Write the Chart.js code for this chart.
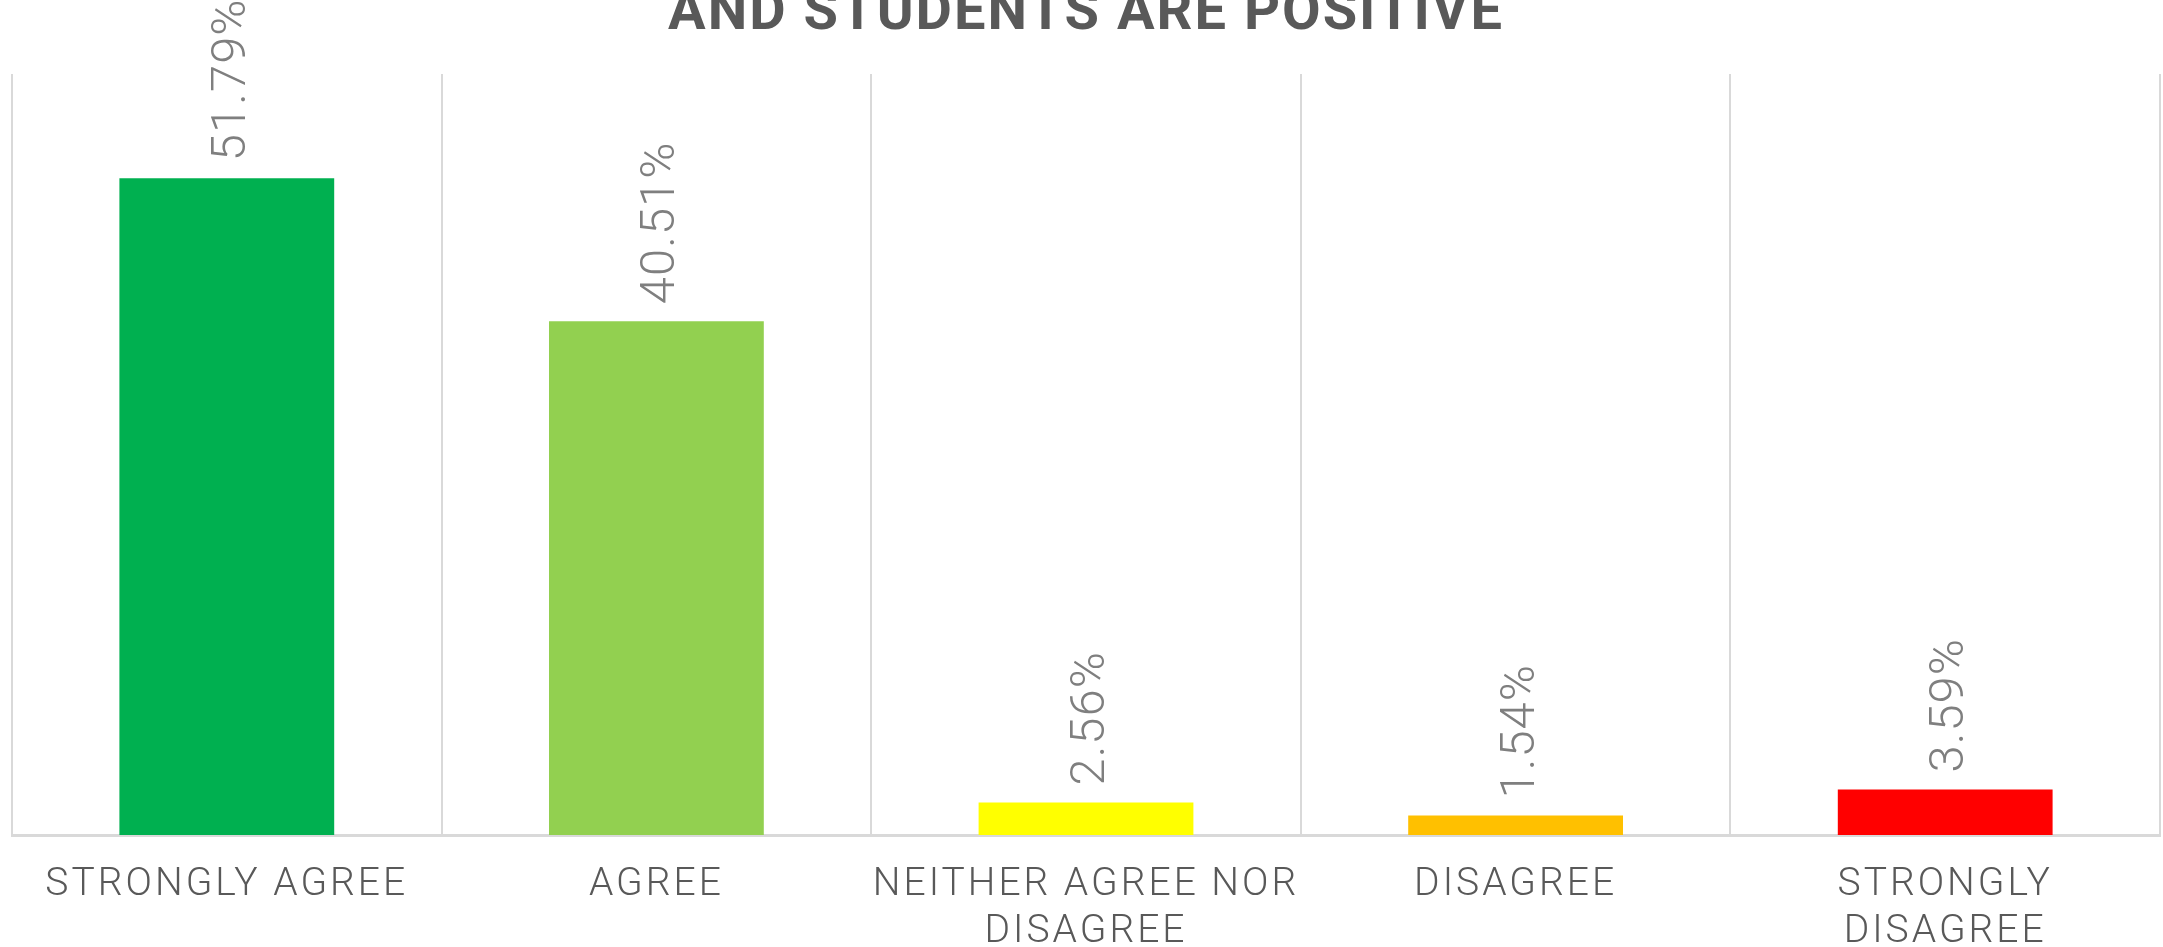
<!DOCTYPE html>
<html>
<head>
<meta charset="utf-8">
<style>
  html, body { margin: 0; padding: 0; background: #ffffff; }
  #wrap { width: 2163px; height: 947px; }
</style>
<script src="https://cdn.jsdelivr.net/npm/chart.js@4/dist/chart.umd.min.js"></script>
</head>
<body>
<div id="wrap"><canvas id="c" width="2163" height="947"></canvas></div>
<script>
const categories = [
  'STRONGLY AGREE',
  'AGREE',
  ['NEITHER AGREE NOR', 'DISAGREE'],
  'DISAGREE',
  ['STRONGLY', 'DISAGREE']
];
const percentages = [51.79, 40.51, 2.56, 1.54, 3.59];
const barColors = ['#00B050', '#92D050', '#FFFF00', '#FFC000', '#FF0000'];
const titleText = 'AND STUDENTS ARE POSITIVE';
const yMin = 0;
const yMax = 60;

const titlePlugin = {
  id: 'clippedTitle',
  beforeDraw(chart) {
    chart.ctx.letterSpacing = '3px';
  },
  afterDraw(chart) {
    const ctx = chart.ctx;
    ctx.save();
    ctx.font = 'bold 56px Roboto';
    ctx.letterSpacing = '0px';
    const w = ctx.measureText(titleText).width;
    const spacing = Math.max(0, (834 - w) / (titleText.length - 1));
    ctx.letterSpacing = spacing.toFixed(2) + 'px';
    ctx.fillStyle = '#595959';
    ctx.textAlign = 'left';
    ctx.textBaseline = 'alphabetic';
    ctx.fillText(titleText, 668, 29);
    ctx.restore();
  }
};

const valueLabelPlugin = {
  id: 'valueLabels',
  afterDatasetsDraw(chart) {
    const ctx = chart.ctx;
    const meta = chart.getDatasetMeta(0);
    ctx.save();
    ctx.font = '300 49px Roboto';
    ctx.letterSpacing = '1px';
    ctx.fillStyle = '#7F7F7F';
    ctx.textAlign = 'left';
    ctx.textBaseline = 'alphabetic';
    meta.data.forEach((bar, i) => {
      const txt = percentages[i].toFixed(2) + '%';
      ctx.save();
      ctx.translate(bar.x + 18, bar.y - 17);
      ctx.rotate(-Math.PI / 2);
      ctx.fillText(txt, 0, 0);
      ctx.restore();
    });
    ctx.restore();
  }
};

new Chart(document.getElementById('c'), {
  type: 'bar',
  data: {
    labels: categories,
    datasets: [{
      data: percentages,
      backgroundColor: barColors,
      borderWidth: 0,
      categoryPercentage: 1.0,
      barPercentage: 0.5
    }]
  },
  options: {
    responsive: false,
    animation: false,
    devicePixelRatio: 1,
    layout: { padding: { top: 74, left: 12, right: 3, bottom: 0 } },
    plugins: {
      legend: { display: false },
      title: { display: false },
      tooltip: { enabled: false }
    },
    scales: {
      x: {
        offset: true,
        grid: {
          offset: true,
          color: '#D9D9D9',
          lineWidth: 2,
          drawTicks: false
        },
        border: { display: true, color: '#D9D9D9', width: 3 },
        ticks: {
          color: '#595959',
          font: { family: 'Roboto', size: 39, weight: '300', lineHeight: 1.2 },
          padding: 27,
          maxRotation: 0,
          autoSkip: false
        },
        afterFit(scale) { scale.height = 947 - 835; }
      },
      y: {
        display: false,
        min: yMin,
        max: yMax
      }
    }
  },
  plugins: [titlePlugin, valueLabelPlugin]
});
</script>
</body>
</html>
